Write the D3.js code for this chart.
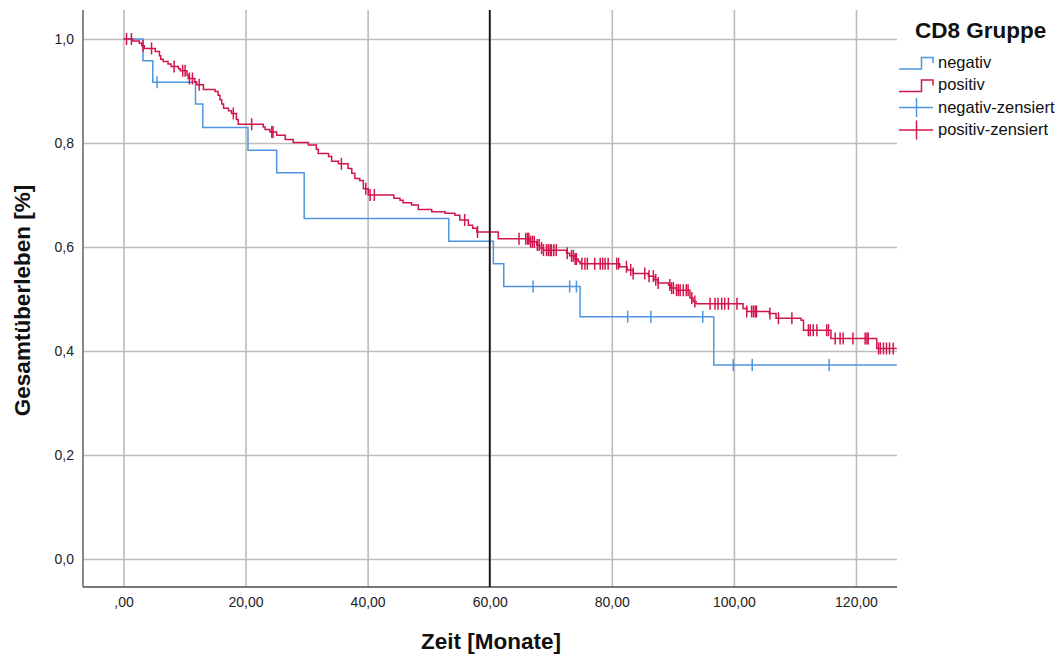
<!DOCTYPE html>
<html>
<head>
<meta charset="utf-8">
<script src="https://cdn.jsdelivr.net/npm/d3@7"></script>
<style>
  html, body { margin: 0; padding: 0; background: #fff; }
  svg { display: block; font-family: "Liberation Sans", Arial, sans-serif; }
</style>
</head>
<body>
<svg id="chart" width="1061" height="657"></svg>
<script>
// Kaplan-Meier estimates, CD8 groups (time in months, survival after each event)
const negEventTimes = [3.2, 4.8, 11.8, 13.0, 20.4, 25.1, 29.6, 53.3, 60.6, 62.3, 74.8, 96.7];
const negSurvival   = [0.958, 0.917, 0.875, 0.830, 0.786, 0.743, 0.655, 0.611, 0.568, 0.524, 0.466, 0.373];
const negCensored   = [5.5, 67.1, 73.1, 74.2, 82.6, 86.4, 94.9, 99.9, 103.0, 115.6];

const posEventTimes = [1.5, 2.6, 3.0, 3.4, 5.2, 5.9, 6.1, 6.5, 7.3, 7.8, 9.0, 9.3, 10.4, 10.6, 11.7, 12.0,
  13.1, 15.0, 15.5, 15.8, 16.1, 16.4, 17.2, 17.7, 18.5, 18.8, 22.9, 23.2, 24.0, 25.1, 26.5, 27.8,
  30.3, 31.6, 31.9, 33.6, 34.1, 35.2, 36.8, 37.4, 37.9, 38.7, 39.3, 40.1, 44.3, 45.3, 45.8, 47.2,
  48.3, 50.5, 52.7, 54.3, 55.1, 56.5, 57.2, 57.9, 61.4, 66.6, 67.7, 68.2, 68.8, 72.6, 73.1, 74.0,
  74.5, 74.8, 81.3, 82.5, 83.5, 86.0, 86.9, 87.6, 89.3, 89.6, 90.6, 92.8, 93.3, 93.8, 101.5, 102.1,
  105.8, 106.9, 111.0, 111.4, 115.9, 123.4];
const posSurvival = [0.996, 0.992, 0.987, 0.982, 0.976, 0.968, 0.961, 0.957, 0.952, 0.947, 0.943, 0.939, 0.931, 0.924, 0.918, 0.912,
  0.903, 0.899, 0.892, 0.883, 0.875, 0.867, 0.862, 0.857, 0.845, 0.836, 0.831, 0.826, 0.821, 0.815, 0.807, 0.801,
  0.796, 0.788, 0.780, 0.774, 0.765, 0.760, 0.751, 0.742, 0.732, 0.728, 0.712, 0.700, 0.694, 0.690, 0.685, 0.681,
  0.672, 0.668, 0.665, 0.661, 0.652, 0.642, 0.636, 0.629, 0.616, 0.610, 0.604, 0.598, 0.594, 0.588, 0.583, 0.577,
  0.572, 0.568, 0.562, 0.556, 0.549, 0.544, 0.537, 0.531, 0.527, 0.521, 0.517, 0.502, 0.495, 0.491, 0.482, 0.476,
  0.472, 0.463, 0.459, 0.440, 0.424, 0.405];
const posCensored = [0.5, 1.3, 3.2, 4.6, 8.3, 9.7, 10.1, 10.8, 11.3, 12.4, 18.0, 21.0, 24.3, 24.5, 35.7, 39.7,
  40.4, 41.1, 55.9, 58.0, 64.8, 65.9, 66.2, 66.4, 66.7, 67.0, 67.3, 67.8, 68.1, 68.5, 68.8, 69.3, 69.6,
  69.9, 70.1, 70.5, 70.9, 72.7, 73.4, 73.7, 74.0, 74.2, 75.1, 75.6, 76.0, 77.2, 78.1, 78.5, 78.9, 79.4,
  80.8, 81.1, 82.4, 83.1, 83.5, 85.4, 86.1, 86.8, 87.2, 87.6, 89.5, 89.8, 90.1, 90.6, 90.9, 91.2, 91.7,
  92.2, 92.5, 93.1, 93.6, 96.1, 96.9, 97.4, 98.0, 98.5, 99.1, 100.5, 102.1, 102.9, 103.2, 103.5, 103.7,
  105.9, 107.3, 109.5, 112.2, 112.5, 113.0, 113.6, 115.2, 115.5, 116.6, 117.4, 117.9, 119.5, 121.5,
  121.8, 122.0, 123.7, 124.0, 124.5, 125.0, 125.5, 126.1];
const followUpEnd = 126.7;

const xTicks = [0, 20, 40, 60, 80, 100, 120];
const xTickLabels = [",00", "20,00", "40,00", "60,00", "80,00", "100,00", "120,00"];
const yTicks = [0, 0.2, 0.4, 0.6, 0.8, 1.0];
const yTickLabels = ["0,0", "0,2", "0,4", "0,6", "0,8", "1,0"];
const referenceTime = 60;

const legendLabels = ["negativ", "positiv", "negativ-zensiert", "positiv-zensiert"];
const legendTitle = "CD8 Gruppe";
const xTitle = "Zeit [Monate]";
const yTitle = "Gesamtüberleben [%]";

const colors = { negativ: "#4f95e2", positiv: "#d2154a" };

// ---- layout ----
const svg = d3.select("#chart");
const plot = { left: 83, right: 897, top: 10, bottom: 587 };
const x = d3.scaleLinear().domain([-6.63, 126.72]).range([plot.left, plot.right]);
const y = d3.scaleLinear().domain([-0.0538, 1.0558]).range([plot.bottom, plot.top]);

// grid + tick labels
const gridColor = "#bdbdbd";
const yAxis = svg.append("g")
  .attr("transform", `translate(${plot.left},0)`)
  .call(d3.axisLeft(y).tickValues(yTicks).tickFormat((d, i) => yTickLabels[i])
    .tickSize(-(plot.right - plot.left)).tickPadding(9));
const xAxis = svg.append("g")
  .attr("transform", `translate(0,${plot.bottom})`)
  .call(d3.axisBottom(x).tickValues(xTicks).tickFormat((d, i) => xTickLabels[i])
    .tickSize(-(plot.bottom - plot.top)).tickPadding(10));
[xAxis, yAxis].forEach(g => {
  g.select(".domain").remove();
  g.selectAll(".tick line").attr("stroke", gridColor).attr("stroke-width", 1.6);
  g.selectAll(".tick text").attr("fill", "#222").style("font-size", "14px")
    .style("font-family", "'Liberation Sans', Arial, sans-serif");
});

// axis lines
svg.append("line").attr("x1", plot.left).attr("x2", plot.left)
  .attr("y1", plot.top).attr("y2", plot.bottom).attr("stroke", "#4a4a4a").attr("stroke-width", 1.3);
svg.append("line").attr("x1", plot.left).attr("x2", plot.right)
  .attr("y1", plot.bottom).attr("y2", plot.bottom).attr("stroke", "#4a4a4a").attr("stroke-width", 1.3);

// survival curves
function stepPoints(times, surv) {
  const pts = [[0, 1]];
  times.forEach((t, i) => pts.push([t, surv[i]]));
  pts.push([followUpEnd, surv[surv.length - 1]]);
  return pts;
}
function survAt(times, surv, t) {
  let s = 1;
  for (let i = 0; i < times.length; i++) if (times[i] <= t) s = surv[i];
  return s;
}
const line = d3.line().x(d => x(d[0])).y(d => y(d[1])).curve(d3.curveStepAfter);

const groups = [
  { name: "negativ", times: negEventTimes, surv: negSurvival, cens: negCensored },
  { name: "positiv", times: posEventTimes, surv: posSurvival, cens: posCensored }
];

groups.forEach(g => {
  const c = colors[g.name];
  svg.append("path")
    .datum(stepPoints(g.times, g.surv))
    .attr("d", line)
    .attr("fill", "none")
    .attr("stroke", c)
    .attr("stroke-width", 1.5);
  svg.append("g").selectAll("line")
    .data(g.cens)
    .join("line")
    .attr("x1", d => x(d)).attr("x2", d => x(d))
    .attr("y1", d => y(survAt(g.times, g.surv, d)) - 6)
    .attr("y2", d => y(survAt(g.times, g.surv, d)) + 6)
    .attr("stroke", c)
    .attr("stroke-width", 1.5);
});

// reference line at 60 months
svg.append("line")
  .attr("x1", x(referenceTime)).attr("x2", x(referenceTime))
  .attr("y1", plot.top).attr("y2", plot.bottom)
  .attr("stroke", "#111").attr("stroke-width", 1.8);

// axis titles
svg.append("text")
  .attr("x", (plot.left + plot.right) / 2 + 1).attr("y", 649)
  .attr("text-anchor", "middle")
  .style("font-size", "22.5px").style("font-weight", "bold").attr("fill", "#111")
  .text(xTitle);
svg.append("text")
  .attr("transform", `translate(29.5,${(plot.top + plot.bottom) / 2 + 2}) rotate(-90)`)
  .attr("text-anchor", "middle")
  .style("font-size", "22.5px").style("font-weight", "bold").attr("fill", "#111")
  .text(yTitle);

// legend
const legend = svg.append("g");
legend.append("text")
  .attr("x", 915).attr("y", 38)
  .style("font-size", "22.5px").style("font-weight", "bold").attr("fill", "#111")
  .text(legendTitle);

const legendRows = [
  { label: legendLabels[0], color: colors.negativ, kind: "step", yb: 67.5 },
  { label: legendLabels[1], color: colors.positiv, kind: "step", yb: 90 },
  { label: legendLabels[2], color: colors.negativ, kind: "cens", yb: 112.5 },
  { label: legendLabels[3], color: colors.positiv, kind: "cens", yb: 135 }
];
legendRows.forEach(r => {
  if (r.kind === "step") {
    legend.append("path")
      .attr("d", d3.line()([[899, r.yb + 1.5], [921.5, r.yb + 1.5], [921.5, r.yb - 10], [933, r.yb - 10], [933, r.yb - 4.5]]))
      .attr("fill", "none").attr("stroke", r.color).attr("stroke-width", 1.5);
  } else {
    const ly = r.yb - 5;
    legend.append("line").attr("x1", 899).attr("x2", 933).attr("y1", ly).attr("y2", ly)
      .attr("stroke", r.color).attr("stroke-width", 1.5);
    legend.append("line").attr("x1", 916.5).attr("x2", 916.5).attr("y1", ly - 9.5).attr("y2", ly + 9.5)
      .attr("stroke", r.color).attr("stroke-width", 1.5);
  }
  legend.append("text")
    .attr("x", 938).attr("y", r.yb)
    .style("font-size", "16.5px").attr("fill", "#111")
    .text(r.label);
});
</script>
</body>
</html>
